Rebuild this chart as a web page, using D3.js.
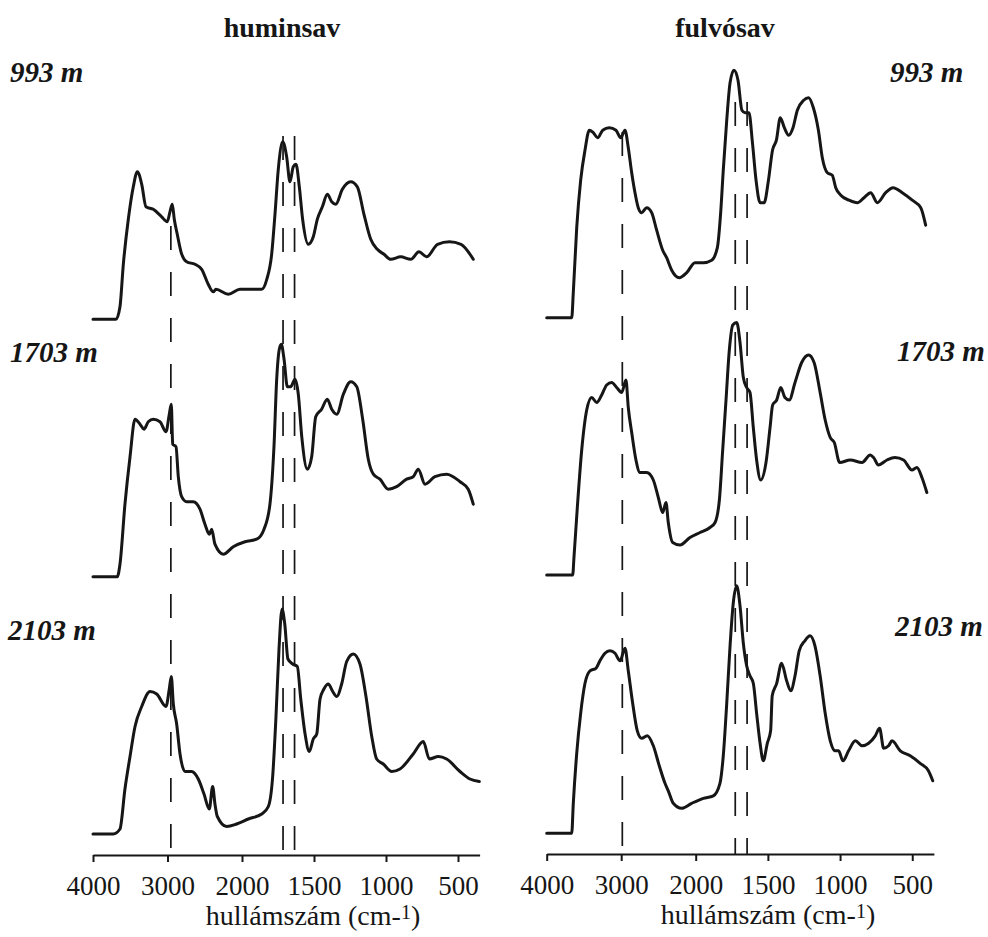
<!DOCTYPE html>
<html><head><meta charset="utf-8">
<script src="https://cdn.jsdelivr.net/npm/d3@7"></script>
<style>body{margin:0;background:#fff}svg{display:block}</style>
</head><body><svg id="c" width="988" height="937"></svg>
<script>
// ---------------- data ----------------
const panelTitles = ["huminsav", "fulvósav"];
const depthLabels = ["993 m", "1703 m", "2103 m"];
const tickValues = [4000, 3000, 2000, 1500, 1000, 500];
const axisTitleMain = "hullámszám (cm-";
const axisTitleSup = "1";
const markersHumic = [2955, 1715, 1635];
const markersFulvic = [2985, 1726, 1644];

// spectra: [wavenumber (cm-1), absorbance (arbitrary units)]
const humic993 = [[4000,0],[3691,0],[3638,5],[3593,22],[3526,40],[3459,53],[3405,59],[3346,54],[3289,45],[3191,44],[3078,41],[3003,39],[2967,43],[2936,46],[2909,40],[2869,34],[2819,27],[2743,23],[2631,22],[2541,20],[2453,14],[2386,11],[2350,12],[2184,10],[2027,12],[1944,12],[1863,12],[1828,16],[1794,26],[1771,42],[1748,60],[1717,71],[1690,65],[1667,55],[1644,61],[1625,62],[1602,53],[1579,40],[1540,30],[1505,33],[1477,40],[1442,45],[1407,50],[1377,47],[1349,46],[1303,52],[1245,55],[1199,53],[1153,42],[1106,32],[1060,28],[1014,26],[967,24],[898,25],[828,24],[771,27],[718,25],[642,30],[560,31],[479,30],[394,24]];
const humic1703 = [[4000,0],[3674,0],[3638,5],[3571,29],[3503,48],[3436,63],[3369,61],[3316,59],[3258,62],[3191,63],[3101,62],[3020,58],[2976,65],[2949,69],[2930,53],[2886,52],[2855,40],[2810,32],[2743,30],[2654,30],[2564,27],[2497,21],[2439,17],[2407,19],[2363,13],[2251,9],[2117,12],[1979,14],[1898,15],[1847,19],[1806,29],[1778,52],[1759,79],[1741,91],[1727,93],[1708,87],[1685,76],[1662,76],[1632,79],[1609,73],[1585,56],[1546,43],[1516,48],[1488,64],[1447,67],[1408,71],[1377,67],[1342,65],[1296,73],[1245,78],[1203,76],[1162,63],[1123,47],[1088,41],[1042,39],[984,35],[926,36],[857,39],[811,40],[776,43],[729,37],[660,40],[579,41],[486,38],[429,35],[394,29]];
const humic2103 = [[4000,0],[3728,0],[3638,2],[3571,18],[3503,31],[3436,43],[3346,51],[3235,57],[3145,56],[3020,51],[2976,58],[2949,63],[2922,52],[2877,44],[2832,32],[2765,25],[2676,25],[2587,22],[2510,16],[2439,10],[2394,19],[2363,12],[2331,7],[2206,3],[2072,4],[1956,6],[1863,8],[1817,11],[1787,23],[1764,47],[1743,74],[1722,90],[1703,84],[1681,70],[1648,68],[1616,67],[1592,54],[1562,40],[1533,33],[1505,38],[1481,40],[1458,54],[1431,58],[1401,60],[1370,57],[1342,55],[1308,60],[1273,69],[1227,72],[1181,68],[1139,55],[1099,39],[1065,30],[1019,28],[960,25],[903,26],[811,32],[741,37],[699,30],[636,31],[579,30],[486,25],[417,22],[352,21]];
const fulvic993 = [[4000,0],[3664,0],[3643,10],[3597,36],[3544,55],[3486,67],[3428,75],[3375,74],[3316,72],[3248,75],[3160,76],[3070,75],[3007,72],[2949,75],[2905,68],[2859,58],[2815,50],[2771,44],[2725,42],[2658,44],[2591,42],[2524,35],[2443,27],[2390,24],[2322,19],[2220,16],[2121,18],[2010,22],[1947,22],[1889,23],[1850,28],[1827,42],[1809,59],[1785,79],[1762,94],[1735,99],[1707,95],[1680,83],[1658,82],[1631,82],[1607,70],[1582,55],[1554,46],[1526,46],[1496,55],[1468,67],[1441,71],[1414,80],[1386,76],[1356,73],[1326,76],[1296,83],[1252,87],[1218,88],[1185,84],[1150,75],[1123,64],[1088,58],[1054,57],[1030,52],[995,49],[938,47],[880,46],[834,48],[788,50],[742,46],[684,50],[633,52],[569,50],[500,47],[441,44],[407,37]];
const fulvic1703 = [[4000,0],[3651,0],[3634,7],[3589,27],[3530,50],[3463,66],[3396,71],[3329,69],[3262,72],[3195,76],[3128,77],[3061,75],[2993,73],[2936,78],[2905,67],[2859,57],[2802,46],[2748,41],[2658,41],[2569,38],[2502,31],[2443,25],[2399,29],[2368,21],[2309,13],[2211,12],[2077,15],[1970,17],[1901,19],[1866,21],[1836,30],[1813,50],[1790,70],[1767,90],[1743,100],[1716,101],[1693,93],[1670,79],[1647,75],[1624,73],[1601,59],[1578,46],[1550,38],[1513,45],[1485,59],[1467,68],[1439,70],[1411,75],[1382,71],[1352,70],[1312,77],[1266,85],[1218,88],[1180,85],[1138,73],[1103,62],[1068,55],[1040,53],[1003,45],[929,46],[848,45],[791,48],[768,47],[734,44],[675,46],[620,47],[560,46],[502,42],[468,43],[433,39],[399,33]];
const fulvic2103 = [[4000,0],[3664,0],[3643,12],[3597,32],[3544,48],[3486,60],[3419,65],[3339,66],[3285,69],[3218,72],[3151,73],[3083,72],[3016,69],[2949,74],[2905,65],[2846,52],[2784,41],[2725,38],[2650,39],[2569,35],[2489,27],[2412,20],[2368,17],[2301,12],[2188,10],[2054,12],[1947,14],[1878,15],[1832,20],[1809,31],[1785,52],[1762,75],[1740,92],[1716,99],[1693,91],[1670,76],[1647,67],[1624,63],[1601,60],[1578,48],[1554,36],[1532,29],[1504,36],[1481,41],[1470,55],[1439,60],[1405,68],[1370,61],[1342,57],[1312,63],[1283,73],[1244,77],[1208,79],[1174,75],[1138,63],[1103,48],[1068,37],[1034,33],[1010,33],[980,29],[941,33],[894,37],[848,35],[802,36],[756,39],[726,42],[698,34],[664,35],[640,37],[583,33],[514,31],[445,28],[388,25],[358,21]];

// ---------------- layout ----------------
const svg = d3.select("#c");
const FONT = "'Liberation Serif','Times New Roman',serif";
const INK = "#161616";

const panels = [
  { title: panelTitles[0], titleX: 282, spectra: [humic993, humic1703, humic2103], markers: markersHumic,
    xRange: [93, 242, 479.6], baselines: [319.3, 576.7, 834], axisY: 855,
    markerTop: [226, 136, 136],
    labels: [{x: 10, y: 82}, {x: 10, y: 362}, {x: 8, y: 640}], titleAxisX: 313 },
  { title: panelTitles[1], titleX: 725, spectra: [fulvic993, fulvic1703, fulvic2103], markers: markersFulvic,
    xRange: [546.7, 695.7, 933.9], baselines: [317.7, 575, 833.3], axisY: 854,
    markerTop: [132, 102, 102],
    labels: [{x: 890, y: 82}, {x: 897, y: 361}, {x: 895, y: 636}], titleAxisX: 768 }
];

const yUnit = 2.5; // px per absorbance unit

panels.forEach(p => {
  const x = d3.scaleLinear().domain([4000, 2000, 350]).range(p.xRange);
  const g = svg.append("g");

  // dashed marker lines
  g.selectAll("line.marker").data(p.markers).join("line")
    .attr("x1", d => x(d)).attr("x2", d => x(d))
    .attr("y1", (d, i) => p.markerTop[i]).attr("y2", p.axisY)
    .attr("stroke", INK).attr("stroke-width", 1.7)
    .attr("stroke-dasharray", "24,22");

  // spectra
  p.spectra.forEach((s, i) => {
    const y = d3.scaleLinear().domain([0, 100]).range([p.baselines[i], p.baselines[i] - 100 * yUnit]);
    const line = d3.line().x(d => x(d[0])).y(d => y(d[1])).curve(d3.curveMonotoneX);
    g.append("path").datum(s).attr("d", line)
      .attr("fill", "none").attr("stroke", INK).attr("stroke-width", 3)
      .attr("stroke-linejoin", "round").attr("stroke-linecap", "round");
  });

  // axis
  const ax = g.append("g").attr("transform", `translate(0,${p.axisY})`)
    .call(d3.axisBottom(x).tickValues(tickValues).tickSize(7).tickSizeOuter(0).tickFormat(d3.format("d")));
  ax.select(".domain").attr("stroke", INK).attr("stroke-width", 2);
  ax.selectAll(".tick line").attr("stroke", INK).attr("stroke-width", 2);
  ax.selectAll(".tick text").attr("y", 40).attr("dy", 0)
    .attr("font-family", FONT).attr("font-size", 27).attr("fill", INK);

  // axis title
  const t = g.append("text").attr("x", p.titleAxisX).attr("y", p.axisY + 70)
    .attr("text-anchor", "middle").attr("font-family", FONT).attr("font-size", 28).attr("fill", INK);
  t.append("tspan").text(axisTitleMain);
  t.append("tspan").attr("font-size", 20).attr("dy", -6).text(axisTitleSup);
  t.append("tspan").attr("dy", 6).text(")");

  // panel title
  g.append("text").attr("x", p.titleX).attr("y", 37).attr("text-anchor", "middle")
    .attr("font-family", FONT).attr("font-weight", "bold").attr("font-size", 28).attr("fill", INK)
    .text(p.title);

  // depth labels
  g.selectAll("text.depth").data(depthLabels).join("text").attr("class", "depth")
    .attr("x", (d, i) => p.labels[i].x).attr("y", (d, i) => p.labels[i].y)
    .attr("font-family", FONT).attr("font-weight", "bold").attr("font-style", "italic")
    .attr("font-size", 29).attr("fill", INK).text(d => d);
});
</script></body></html>
